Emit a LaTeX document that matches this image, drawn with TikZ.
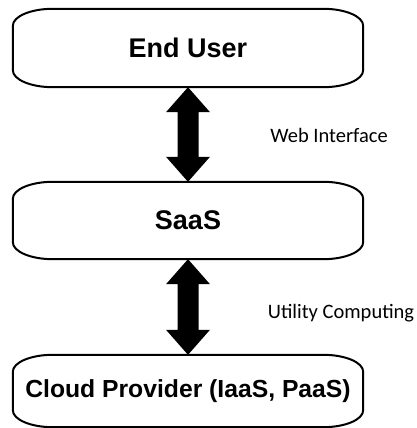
\documentclass[tikz,border=0pt]{standalone}
\usepackage{fontspec}
\setmainfont{Liberation Sans}
\newfontfamily\labelfont{Carlito}
\usetikzlibrary{calc}
\tikzset{
  pill/.style={minimum width=350pt, inner sep=0pt, font=\bfseries\fontsize{27}{32}\selectfont},
  pilledge/.style={line width=2pt},
  lbl/.style={inner sep=0pt, font=\labelfont\fontsize{20.5}{24}\selectfont},
  bigarrow/.style={fill=black}
}
\newcommand\pillbox[1]{%
  \draw[pilledge] ([xshift=40pt]#1.north west) -- ([xshift=-40pt]#1.north east)
    arc[start angle=90,end angle=0,x radius=40pt,y radius=17pt]
    -- ([yshift=17pt]#1.south east)
    arc[start angle=0,end angle=-90,x radius=40pt,y radius=17pt]
    -- ([xshift=40pt]#1.south west)
    arc[start angle=270,end angle=180,x radius=40pt,y radius=17pt]
    -- ([yshift=-17pt]#1.north west)
    arc[start angle=180,end angle=90,x radius=40pt,y radius=17pt] -- cycle;}
\newcommand\dblarrow[2]{%
  \fill[bigarrow] let \p1=(#1.south), \p2=(#2.north) in
    (\x1,\y1) -- (\x1+22pt,\y1-25pt) -- (\x1+10.5pt,\y1-25pt) -- (\x1+10.5pt,\y2+25pt)
    -- (\x1+22pt,\y2+25pt) -- (\x1,\y2) -- (\x1-22pt,\y2+25pt) -- (\x1-10.5pt,\y2+25pt)
    -- (\x1-10.5pt,\y1-25pt) -- (\x1-22pt,\y1-25pt) -- cycle;}
\begin{document}
\begin{tikzpicture}[x=1pt,y=1pt]
\useasboundingbox (0,0) rectangle (417,428);
\node[pill, minimum height=78pt] (eu) at (188,380) {End User};
\node[pill, minimum height=77pt] (saas) at (188,207.5) {SaaS};
\node[pill, minimum height=72pt, font=\bfseries\fontsize{24.7}{30}\selectfont] (cp) at (188,37) {Cloud Provider (IaaS, PaaS)};
\pillbox{eu}
\pillbox{saas}
\pillbox{cp}
\dblarrow{eu}{saas}
\dblarrow{saas}{cp}
\node[lbl] (web) at (329,293) {Web Interface};
\node[lbl] (util) at (341,115) {Utility Computing};
\end{tikzpicture}
\end{document}
